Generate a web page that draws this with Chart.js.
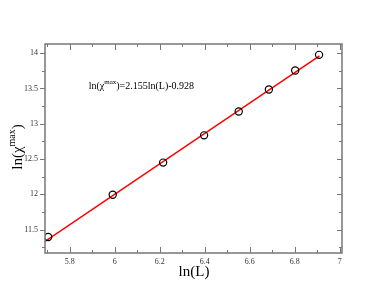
<!DOCTYPE html>
<html lang="en">
<head>
    <meta charset="UTF-8">
    <title>ln(chi max) vs ln(L)</title>
    <script src="https://cdn.jsdelivr.net/npm/chart.js@4.4.0"></script>
    <style>
        html, body { margin: 0; padding: 0; background: #fff; }
        #wrap { width: 385px; height: 298px; }
    </style>
</head>
<body>
    <div id="wrap"><canvas id="myChart" width="385" height="298"></canvas></div>
    <script>
        // Data
        const lnL = [5.704, 5.991, 6.215, 6.397, 6.551, 6.685, 6.802, 6.908];
        const lnChiMax = [11.397, 11.995, 12.45, 12.836, 13.175, 13.486, 13.755, 13.976];
        const fitSlope = 2.155;
        const fitIntercept = -0.928;
        const fitRange = [5.69, 6.91];
        const xTicks = [5.8, 6, 6.2, 6.4, 6.6, 6.8, 7];
        const xMinorTicks = [5.7, 5.9, 6.1, 6.3, 6.5, 6.7, 6.9];
        const yTicks = [11.5, 12, 12.5, 13, 13.5, 14];
        const yMinorTicks = [11.25, 11.75, 12.25, 12.75, 13.25, 13.75];

        const points = lnL.map((x, i) => ({ x: x, y: lnChiMax[i] }));
        const fitLine = fitRange.map(x => ({ x: x, y: fitSlope * x + fitIntercept }));

        const SERIF = '"Liberation Serif", "DejaVu Serif", serif';
        const frameColor = '#777';

        // draws frame, inward/outward ticks, axis titles and the fit label
        const decor = {
            id: 'decor',
            afterDraw(chart) {
                const ctx = chart.ctx;
                const a = chart.chartArea;
                const xs = chart.scales.x, ys = chart.scales.y;
                ctx.save();
                ctx.strokeStyle = frameColor;
                ctx.lineWidth = 1.5;
                ctx.strokeRect(a.left, a.top, a.right - a.left, a.bottom - a.top);

                ctx.lineWidth = 1;
                ctx.beginPath();
                const xt = (v, len) => {
                    const p = Math.round(xs.getPixelForValue(v)) + 0.5;
                    ctx.moveTo(p, a.bottom); ctx.lineTo(p, a.bottom - len);
                    ctx.moveTo(p, a.top); ctx.lineTo(p, a.top + len);
                };
                const yt = (v, len) => {
                    const p = Math.round(ys.getPixelForValue(v)) + 0.5;
                    ctx.moveTo(a.left, p); ctx.lineTo(a.left - len, p);
                    ctx.moveTo(a.right, p); ctx.lineTo(a.right - len, p);
                };
                xTicks.forEach(v => xt(v, 6));
                xMinorTicks.forEach(v => xt(v, 3));
                yTicks.forEach(v => yt(v, 5));
                yMinorTicks.forEach(v => yt(v, 3));
                ctx.stroke();

                // x title
                ctx.fillStyle = '#000';
                ctx.font = '15px ' + SERIF;
                ctx.textAlign = 'center';
                ctx.textBaseline = 'alphabetic';
                ctx.fillText('ln(L)', (a.left + a.right) / 2 + 0.5, 276);

                // y title, rotated, with superscript
                ctx.save();
                ctx.translate(22, 147);
                ctx.rotate(-Math.PI / 2);
                drawSup(ctx, 0, 0, 'ln(\u03c7', 'max', ')', 15, 10, 7, true);
                ctx.restore();

                // fit label
                const lx = xs.getPixelForValue(5.884);
                const ly = ys.getPixelForValue(13.486);
                drawSup(ctx, lx, ly, 'ln(\u03c7', 'max', ')=2.155ln(L)-0.928', 10, 7, 5, false);
                ctx.restore();
            }
        };

        function drawSup(ctx, x, y, before, sup, after, size, supSize, rise, centered) {
            ctx.font = size + 'px ' + SERIF;
            const w1 = ctx.measureText(before).width;
            const w3 = ctx.measureText(after).width;
            ctx.font = supSize + 'px ' + SERIF;
            const w2 = ctx.measureText(sup).width;
            let sx = centered ? x - (w1 + w2 + w3) / 2 : x;
            ctx.textAlign = 'left';
            ctx.textBaseline = 'alphabetic';
            ctx.font = size + 'px ' + SERIF;
            ctx.fillText(before, sx, y);
            ctx.font = supSize + 'px ' + SERIF;
            ctx.fillText(sup, sx + w1, y - rise);
            ctx.font = size + 'px ' + SERIF;
            ctx.fillText(after, sx + w1 + w2, y);
        }

        const ctx = document.getElementById('myChart').getContext('2d');
        const myChart = new Chart(ctx, {
            type: 'scatter',
            data: {
                datasets: [{
                    label: 'fit',
                    data: fitLine,
                    showLine: true,
                    borderColor: '#ff0000',
                    borderWidth: 1.5,
                    pointRadius: 0,
                    fill: false,
                    order: 2
                }, {
                    label: 'data',
                    data: points,
                    pointStyle: 'circle',
                    pointRadius: 3.6,
                    borderColor: '#000',
                    backgroundColor: 'rgba(0,0,0,0)',
                    borderWidth: 1.2,
                    order: 1
                }]
            },
            options: {
                responsive: false,
                animation: false,
                layout: { padding: { left: 0, right: 43, top: 44, bottom: 0 } },
                plugins: {
                    legend: { display: false },
                    tooltip: { enabled: false }
                },
                scales: {
                    x: {
                        type: 'linear',
                        min: 5.69,
                        max: 7.01,
                        grid: { display: false, drawTicks: false },
                        border: { display: false },
                        afterBuildTicks: axis => { axis.ticks = xTicks.map(v => ({ value: v })); },
                        afterFit: axis => { axis.height = 45; },
                        ticks: {
                            padding: 4,
                            color: '#333',
                            font: { family: SERIF, size: 8 },
                            maxRotation: 0,
                            callback: v => String(Math.round(v * 10) / 10)
                        }
                    },
                    y: {
                        type: 'linear',
                        min: 11.17,
                        max: 14.13,
                        grid: { display: false, drawTicks: false },
                        border: { display: false },
                        afterBuildTicks: axis => { axis.ticks = yTicks.map(v => ({ value: v })); },
                        afterFit: axis => { axis.width = 45; },
                        ticks: {
                            padding: 7,
                            color: '#333',
                            font: { family: SERIF, size: 8 },
                            callback: v => String(v)
                        }
                    }
                }
            },
            plugins: [decor]
        });
    </script>
</body>
</html>
